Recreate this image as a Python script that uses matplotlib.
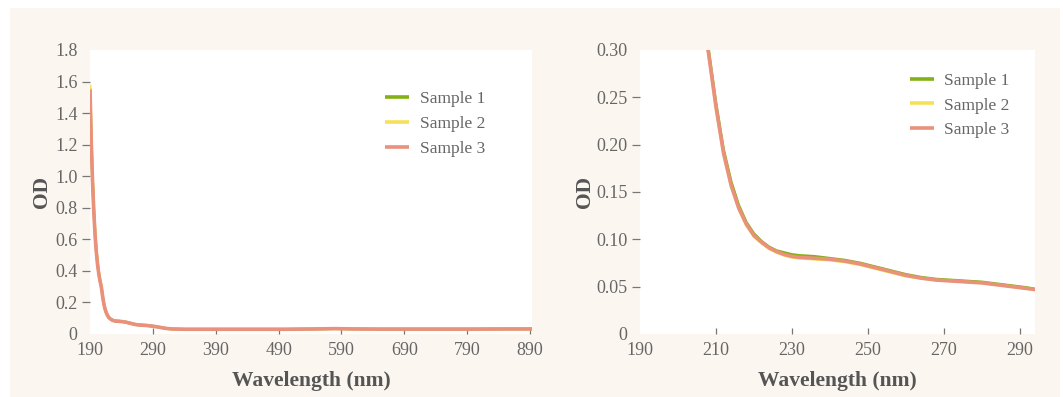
import matplotlib
matplotlib.use("Agg")
import matplotlib.pyplot as plt
from matplotlib.patches import Rectangle

# Absorbance spectra of three samples
wavelength = [190, 192, 194, 196, 198, 200, 202, 204, 206, 208, 210, 212, 214, 216,
              218, 220, 222, 224, 226, 228, 230, 232, 236, 240, 244, 248, 252, 256,
              260, 264, 268, 272, 276, 280, 284, 288, 292, 296, 300, 310, 320, 340,
              400, 450, 500, 550, 580, 610, 650, 700, 750, 800, 850, 900]

sample_1 = [1.56, 1.23, 0.98, 0.79, 0.64, 0.53, 0.45, 0.386, 0.339, 0.302, 0.244, 0.195,
            0.161, 0.136, 0.118, 0.106, 0.098, 0.092, 0.088, 0.086, 0.084, 0.083,
            0.082, 0.080, 0.078, 0.075, 0.071, 0.067, 0.063, 0.060, 0.058, 0.057,
            0.056, 0.055, 0.053, 0.051, 0.049, 0.046, 0.043, 0.036, 0.032, 0.030,
            0.030, 0.030, 0.030, 0.032, 0.034, 0.032, 0.031, 0.031, 0.031, 0.031,
            0.032, 0.032]

sample_2 = [1.58, 1.25, 0.99, 0.80, 0.64, 0.53, 0.45, 0.385, 0.336, 0.297, 0.239, 0.190,
            0.156, 0.132, 0.115, 0.103, 0.096, 0.090, 0.086, 0.083, 0.081, 0.080,
            0.079, 0.078, 0.076, 0.073, 0.069, 0.065, 0.061, 0.059, 0.057, 0.056,
            0.055, 0.054, 0.052, 0.050, 0.048, 0.045, 0.042, 0.035, 0.031, 0.030,
            0.030, 0.030, 0.030, 0.032, 0.034, 0.032, 0.031, 0.031, 0.031, 0.031,
            0.032, 0.032]

sample_3 = [1.55, 1.22, 0.97, 0.78, 0.63, 0.52, 0.44, 0.38, 0.335, 0.298, 0.240, 0.191,
            0.157, 0.133, 0.116, 0.104, 0.097, 0.091, 0.087, 0.084, 0.082, 0.081,
            0.080, 0.079, 0.077, 0.074, 0.070, 0.066, 0.062, 0.059, 0.057, 0.056,
            0.055, 0.054, 0.052, 0.050, 0.048, 0.046, 0.043, 0.036, 0.032, 0.030,
            0.030, 0.030, 0.030, 0.032, 0.034, 0.032, 0.031, 0.031, 0.031, 0.031,
            0.032, 0.032]

series = [("Sample 1", sample_1, "#83b014", 2.0),
          ("Sample 2", sample_2, "#f6e05a", 2.0),
          ("Sample 3", sample_3, "#e9917a", 2.6)]

full_xticks = [190, 290, 390, 490, 590, 690, 790, 890]
full_yticks = [0, 0.2, 0.4, 0.6, 0.8, 1.0, 1.2, 1.4, 1.6, 1.8]
full_ylabels = ["0", "0.2", "0.4", "0.6", "0.8", "1.0", "1.2", "1.4", "1.6", "1.8"]

zoom_xticks = [190, 210, 230, 250, 270, 290]
zoom_yticks = [0, 0.05, 0.10, 0.15, 0.20, 0.25, 0.30]
zoom_ylabels = ["0", "0.05", "0.10", "0.15", "0.20", "0.25", "0.30"]

plt.rcParams["font.family"] = ["Liberation Serif", "DejaVu Serif"]

W, H = 1063, 397
fig = plt.figure(figsize=(W / 100, H / 100), dpi=100, facecolor="white")
fig.patches.append(Rectangle((10 / W, 0), 1050 / W, (H - 8) / H,
                             transform=fig.transFigure, facecolor="#fbf7f0",
                             edgecolor="none", zorder=-10))

tick_color = "#666666"
label_color = "#555555"


def style_axes(ax, xlim, ylim, xticks, yticks, ylabels, ylabel_x, legend_anchor):
    for name, vals, color, lw in series:
        ax.plot(wavelength, vals, color=color, lw=lw, label=name,
                solid_capstyle="butt")
    ax.set_xlim(*xlim)
    ax.set_ylim(*ylim)
    ax.set_facecolor("white")
    for s in ax.spines.values():
        s.set_visible(False)
    ax.set_xticks(xticks)
    ax.set_xticklabels([str(t) for t in xticks])
    ax.set_yticks(yticks)
    ax.set_yticklabels(ylabels)
    ax.tick_params(axis="x", direction="in", length=4, width=0.9, color="#777777",
                   labelsize=13, labelcolor=tick_color, pad=6)
    ax.tick_params(axis="y", direction="out", length=6, width=0.9, color="#777777",
                   labelsize=13, labelcolor=tick_color, pad=3)
    xt = ax.xaxis.get_major_ticks()
    xt[0].tick1line.set_visible(False)
    yt = ax.yaxis.get_major_ticks()
    yt[0].tick1line.set_visible(False)
    yt[-1].tick1line.set_visible(False)
    ax.set_xlabel("Wavelength (nm)", fontsize=15.5, fontweight="bold", color=label_color)
    ax.xaxis.set_label_coords(0.5, -0.13)
    ax.set_ylabel("OD", fontsize=15.5, fontweight="bold", color=label_color)
    ax.yaxis.set_label_coords(ylabel_x, 0.5)
    leg = ax.legend(loc="upper left", bbox_to_anchor=legend_anchor, frameon=False,
                    fontsize=12.5, handlelength=1.4, handletextpad=0.6,
                    labelspacing=0.5, borderaxespad=0)
    for t in leg.get_texts():
        t.set_color(tick_color)
    for h in leg.get_lines():
        h.set_linewidth(2.6)


ax1 = fig.add_axes([90 / W, (H - 334) / H, 442 / W, 284 / H])
style_axes(ax1, (190, 893), (0, 1.8), full_xticks, full_yticks, full_ylabels,
           -0.086, (0.652, 0.88))

ax2 = fig.add_axes([640 / W, (H - 334) / H, 395 / W, 284 / H])
style_axes(ax2, (190, 294), (0, 0.30), zoom_xticks, zoom_yticks, zoom_ylabels,
           -0.115, (0.665, 0.945))

fig.savefig("out.png", dpi=100, facecolor="white")
